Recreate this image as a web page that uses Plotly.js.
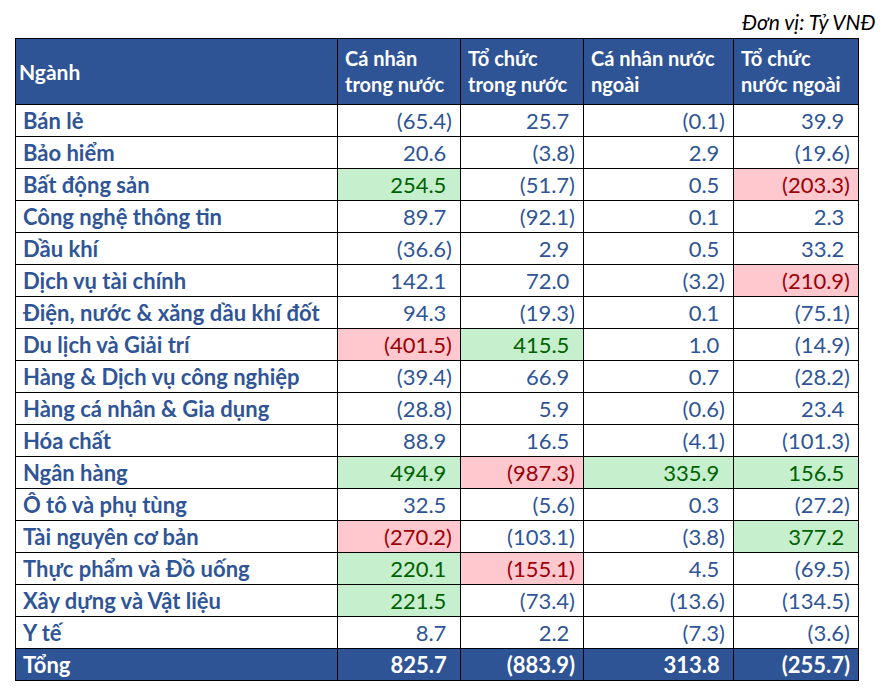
<!DOCTYPE html>
<html><head><meta charset="utf-8">
<script src="https://cdn.plot.ly/plotly-3.0.1.min.js"></script>
<style>body{margin:0;background:#fff}#chart{width:882px;height:691px}</style>
</head><body><div id="chart"></div>
<script>
const sectors = ["Bán lẻ","Bảo hiểm","Bất động sản","Công nghệ thông tin","Dầu khí","Dịch vụ tài chính","Điện, nước & xăng dầu khí đốt","Du lịch và Giải trí","Hàng & Dịch vụ công nghiệp","Hàng cá nhân & Gia dụng","Hóa chất","Ngân hàng","Ô tô và phụ tùng","Tài nguyên cơ bản","Thực phẩm và Đồ uống","Xây dựng và Vật liệu","Y tế"];
const caNhanTrongNuoc = [-65.4,20.6,254.5,89.7,-36.6,142.1,94.3,-401.5,-39.4,-28.8,88.9,494.9,32.5,-270.2,220.1,221.5,8.7];
const toChucTrongNuoc = [25.7,-3.8,-51.7,-92.1,2.9,72.0,-19.3,415.5,66.9,5.9,16.5,-987.3,-5.6,-103.1,-155.1,-73.4,2.2];
const caNhanNuocNgoai = [-0.1,2.9,0.5,0.1,0.5,-3.2,0.1,1.0,0.7,-0.6,-4.1,335.9,0.3,-3.8,4.5,-13.6,-7.3];
const toChucNuocNgoai = [39.9,-19.6,-203.3,2.3,33.2,-210.9,-75.1,-14.9,-28.2,23.4,-101.3,156.5,-27.2,377.2,-69.5,-134.5,-3.6];
const totalLabel = "Tổng";
const totals = [825.7,-883.9,313.8,-255.7];
const headers = ["Ngành","Cá nhân<br>trong nước","Tổ chức<br>trong nước","Cá nhân nước<br>ngoài","Tổ chức<br>nước ngoài"];
const unitNote = "Đơn vị: Tỷ VNĐ";

const BLUE = "#2F5597", HEAD = "#2F5496";
const GREEN_BG = "#C6EFCE", GREEN_TX = "#006100", RED_BG = "#FFC7CE", RED_TX = "#9C0006";
const nb = s => s.replace(/ /g, "\u00a0");
function fmt(v){ const s = Math.abs(v).toFixed(1); return v < 0 ? "(" + s + ")" : s + "\u00a0"; }

const names = sectors.concat([totalLabel]);
const numCols = [caNhanTrongNuoc, toChucTrongNuoc, caNhanNuocNgoai, toChucNuocNgoai];
// names containing '&' are passed via prefix so they are drawn as plain text
const prefixes = [names.map(n => n.includes("&") ? nb(n) : ""), names.map(() => ""), names.map(() => ""), names.map(() => ""), names.map(() => "")];
const values = [names.map(n => n.includes("&") ? "" : nb(n))];
const fills = [sectors.map(() => "white").concat([HEAD])];
const colors = [sectors.map(() => BLUE).concat(["white"])];
const weights = [names.map(() => "bold")];
numCols.forEach((col, ci) => {
  values.push(col.map(fmt).concat([fmt(totals[ci])]));
  fills.push(col.map(v => v > 150 ? GREEN_BG : (v < -150 ? RED_BG : "white")).concat([HEAD]));
  colors.push(col.map(v => v > 150 ? GREEN_TX : (v < -150 ? RED_TX : BLUE)).concat(["white"]));
  weights.push(sectors.map(() => "normal").concat(["bold"]));
});

const W = 882, H = 691;
const FONT = "Lato, 'Open Sans', sans-serif";
const trace = {
  type: "table",
  domain: {x: [15/W, 858/W], y: [0, 1 - 38/H]},
  columnwidth: [322,123,123,150,125],
  header: {
    values: ["", ...headers.slice(1)],
    height: 32,
    align: "left",
    fill: {color: HEAD},
    line: {color: "black", width: 1},
    font: {family: FONT, size: 20, color: "white", weight: "bold"}
  },
  cells: {
    values: values,
    prefix: prefixes,
    height: 32,
    align: ["left","right","right","right","right"],
    fill: {color: fills},
    line: {color: "black", width: 1},
    font: {family: FONT, size: 22, color: colors, weight: weights}
  }
};
const layout = {
  width: W, height: H,
  margin: {l:0, r:0, t:0, b:0},
  paper_bgcolor: "white",
  showlegend: false,
  annotations: [
    {text: unitNote, x: 877/W, y: 1 - 22/H, xref: "paper", yref: "paper", xanchor: "right", yanchor: "middle", showarrow: false,
     font: {family: FONT, size: 21, color: "black", style: "italic"}},
    {text: headers[0], x: 17/W, y: 1 - 71/H, xref: "paper", yref: "paper", xanchor: "left", yanchor: "middle", showarrow: false,
     font: {family: FONT, size: 21, color: "white", weight: "bold"}}
  ]
};
Plotly.newPlot("chart", [trace], layout, {displayModeBar: false});
</script></body></html>
